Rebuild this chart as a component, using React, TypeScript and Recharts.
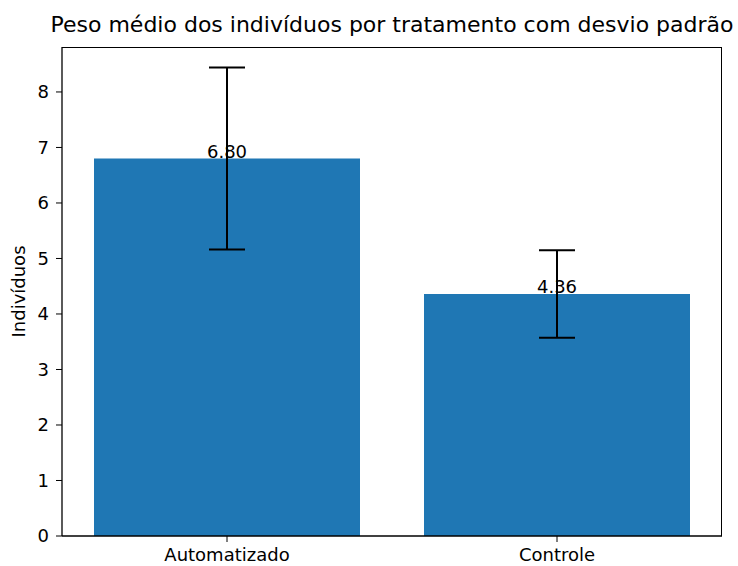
import { Bar, BarChart, ErrorBar, LabelList, XAxis, YAxis } from 'recharts';

const categories = ['Automatizado', 'Controle'];
const means = [6.8, 4.36];
const stdDevs = [1.64, 0.79];
const yTicks = [0, 1, 2, 3, 4, 5, 6, 7, 8];

const rows = categories.map((c, i) => ({ name: c, value: means[i], err: stdDevs[i] }));

const FONT = '"DejaVu Sans", sans-serif';

export default function App() {
  return (
    <div style={{ position: 'absolute', left: 0, top: 0, width: 738, height: 566, background: '#fff', fontFamily: FONT }}>
      <div
        style={{
          position: 'absolute', left: 0, width: 784, top: 12, textAlign: 'center',
          fontSize: 22, color: '#000', whiteSpace: 'nowrap',
        }}
      >
        Peso médio dos indivíduos por tratamento com desvio padrão
      </div>
      <BarChart
        width={738}
        height={566}
        data={rows}
        margin={{ top: 47, right: 16, bottom: 0, left: 0 }}
        barCategoryGap={32}
      >
        <XAxis
          dataKey="name"
          height={30}
          tickLine={{ stroke: '#000' }}
          axisLine={{ stroke: '#000', strokeWidth: 1.3 }}
          tickSize={6}
          tickMargin={6}
          tick={{ fill: '#000', fontSize: 18, fontFamily: FONT }}
        />
        <YAxis
          width={62}
          domain={[0, 8.81]}
          ticks={yTicks}
          tickLine={{ stroke: '#000' }}
          axisLine={{ stroke: '#000', strokeWidth: 1.3 }}
          tickSize={6}
          tickMargin={7}
          tick={{ fill: '#000', fontSize: 18, fontFamily: FONT }}
          label={{ value: 'Indivíduos', angle: -90, position: 'insideLeft', offset: 19, fill: '#000', fontSize: 18, fontFamily: FONT, style: { textAnchor: 'middle' } }}
        />
        <Bar dataKey="value" fill="#1f77b4" isAnimationActive={false}>
          <ErrorBar dataKey="err" width={18} stroke="#000" strokeWidth={2} isAnimationActive={false} />
          <LabelList
            dataKey="value"
            position="top"
            offset={1}
            formatter={(v: any) => Number(v).toFixed(2)}
            style={{ fill: '#000', fontSize: 18, fontFamily: FONT }}
          />
        </Bar>
      </BarChart>
      <div
        style={{
          position: 'absolute', left: 62, top: 47, width: 660, height: 489,
          borderTop: '1px solid #000', borderRight: '1px solid #000', pointerEvents: 'none', boxSizing: 'border-box',
        }}
      />
    </div>
  );
}
